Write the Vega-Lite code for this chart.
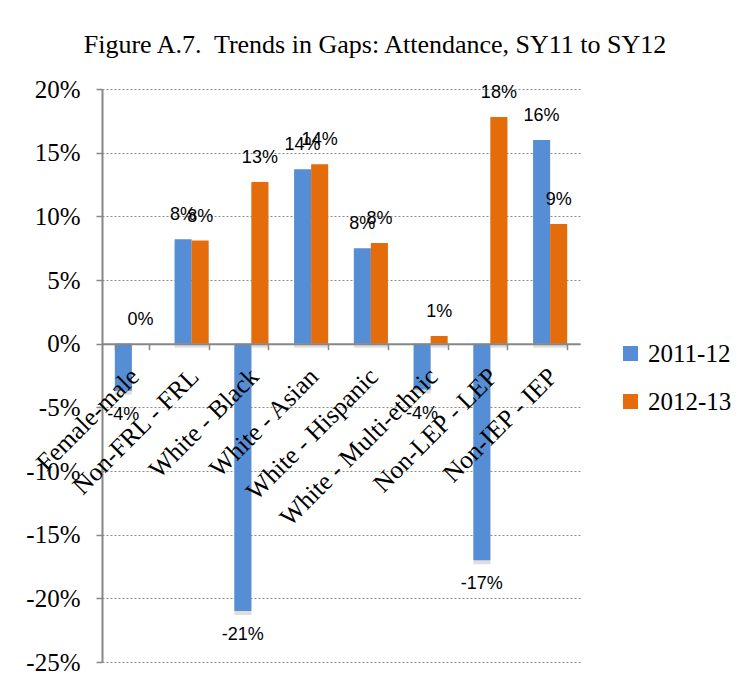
{
  "$schema": "https://vega.github.io/schema/vega-lite/v6.json",
  "width": 478,
  "height": 573,
  "autosize": {"type": "none"},
  "padding": {"left": 102, "top": 89, "right": 170, "bottom": 28},
  "background": "white",
  "config": {
    "view": {"stroke": null},
    "locale": {"number": {"decimal": ".", "thousands": ",", "grouping": [3], "currency": ["$", ""], "minus": "-"}}
  },
  "title": {
    "text": "Figure A.7.\u00a0 Trends in Gaps: Attendance, SY11 to SY12",
    "font": "Liberation Serif",
    "fontSize": 26,
    "fontWeight": "normal",
    "color": "#000000",
    "anchor": "middle",
    "frame": "group",
    "dx": 34,
    "offset": 19
  },
  "data": {
    "values": [
      {"group": "Female-male", "year": "2011-12", "value": -0.037},
      {"group": "Female-male", "year": "2012-13", "value": 0.0},
      {"group": "Non-FRL - FRL", "year": "2011-12", "value": 0.082},
      {"group": "Non-FRL - FRL", "year": "2012-13", "value": 0.081},
      {"group": "White - Black", "year": "2011-12", "value": -0.210},
      {"group": "White - Black", "year": "2012-13", "value": 0.127},
      {"group": "White - Asian", "year": "2011-12", "value": 0.137},
      {"group": "White - Asian", "year": "2012-13", "value": 0.141},
      {"group": "White - Hispanic", "year": "2011-12", "value": 0.075},
      {"group": "White - Hispanic", "year": "2012-13", "value": 0.079},
      {"group": "White - Multi-ethnic", "year": "2011-12", "value": -0.036},
      {"group": "White - Multi-ethnic", "year": "2012-13", "value": 0.006},
      {"group": "Non-LEP - LEP", "year": "2011-12", "value": -0.170},
      {"group": "Non-LEP - LEP", "year": "2012-13", "value": 0.178},
      {"group": "Non-IEP - IEP", "year": "2011-12", "value": 0.160},
      {"group": "Non-IEP - IEP", "year": "2012-13", "value": 0.094}
    ]
  },
  "encoding": {
    "x": {
      "field": "group",
      "type": "nominal",
      "sort": null,
      "scale": {"paddingInner": 0.43, "paddingOuter": 0.215},
      "axis": {
        "title": null,
        "orient": "bottom",
        "offset": -318.3,
        "domainColor": "#868686",
        "domainWidth": 2,
        "tickColor": "#868686",
        "tickWidth": 1.5,
        "tickSize": 6,
        "tickBand": "extent",
        "labelAngle": -45,
        "labelAlign": "right",
        "labelBaseline": "top",
        "labelPadding": 14,
        "labelOffset": -6,
        "labelFont": "Liberation Serif",
        "labelFontSize": 25.5,
        "labelColor": "#000000",
        "labelOverlap": false,
        "labelLimit": 0,
        "grid": false,
        "zindex": 1
      }
    },
    "xOffset": {"field": "year", "type": "nominal", "sort": null, "scale": {"paddingInner": 0, "paddingOuter": 0}},
    "y": {
      "field": "value",
      "type": "quantitative",
      "scale": {"domain": [-0.25, 0.2], "nice": false},
      "axis": {
        "title": null,
        "values": [-0.25, -0.2, -0.15, -0.1, -0.05, 0, 0.05, 0.1, 0.15, 0.2],
        "format": ".0%",
        "domainColor": "#868686",
        "domainWidth": 2,
        "tickColor": "#868686",
        "tickWidth": 1.5,
        "tickSize": 6,
        "labelPadding": 16,
        "labelFont": "Liberation Serif",
        "labelFontSize": 25,
        "labelColor": "#000000",
        "grid": true,
        "gridColor": "#8a8a8a",
        "gridDash": [2, 2],
        "gridWidth": 1
      }
    }
  },
  "layer": [
    {
      "mark": {"type": "bar", "color": "#000000", "opacity": 0.13, "xOffset": 3, "yOffset": 4},
      "encoding": {}
    },
    {
      "mark": {"type": "bar"},
      "encoding": {
        "color": {
          "field": "year",
          "type": "nominal",
          "scale": {"domain": ["2011-12", "2012-13"], "range": ["#558ed5", "#e46c0a"]},
          "legend": {
            "title": null,
            "orient": "none",
            "legendX": 516,
            "legendY": 252,
            "symbolType": "square",
            "symbolSize": 225,
            "symbolStrokeWidth": 0,
            "symbolOpacity": 1,
            "labelFont": "Liberation Serif",
            "labelFontSize": 25,
            "labelColor": "#000000",
            "labelOffset": 5,
            "rowPadding": 22
          }
        }
      }
    },
    {
      "transform": [{"filter": "datum.value >= 0"}],
      "mark": {"type": "text", "dy": -24, "font": "Liberation Sans", "fontSize": 18, "color": "#000000"},
      "encoding": {"text": {"field": "value", "type": "quantitative", "format": ".0%"}}
    },
    {
      "transform": [{"filter": "datum.value < 0"}],
      "mark": {"type": "text", "dy": 24, "font": "Liberation Sans", "fontSize": 18, "color": "#000000"},
      "encoding": {"text": {"field": "value", "type": "quantitative", "format": ".0%"}}
    }
  ]
}
